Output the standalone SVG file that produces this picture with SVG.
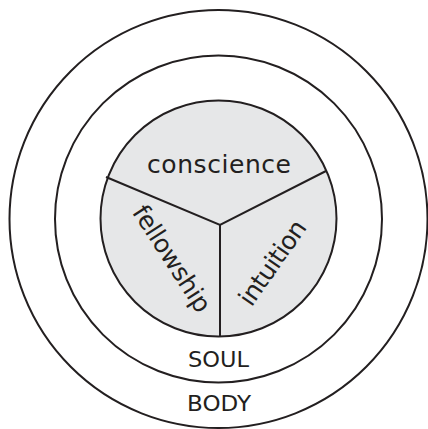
<svg xmlns="http://www.w3.org/2000/svg" width="428" height="429" viewBox="0 0 428 429">
<style>
.ring{fill:none;stroke:#231f20;stroke-width:2}
.core{fill:#e6e7e8;stroke:#231f20;stroke-width:2}
.div{fill:none;stroke:#231f20;stroke-width:2}
.lbl{font-family:"DejaVu Sans","Liberation Sans",sans-serif;fill:#231f20;text-anchor:middle}
</style>
<rect width="428" height="429" fill="#ffffff"/>
<g id="body">
<circle class="ring" cx="218.5" cy="219" r="209"/>
<text class="lbl" x="219" y="410.5" font-size="22" textLength="64" lengthAdjust="spacingAndGlyphs">BODY</text>
</g>
<g id="soul">
<circle class="ring" cx="218.5" cy="219" r="163.5"/>
<text class="lbl" x="218.5" y="366.5" font-size="21" textLength="61" lengthAdjust="spacingAndGlyphs">SOUL</text>
</g>
<g id="spirit">
<circle class="core" cx="218.5" cy="218.5" r="118"/>
</g>
<g id="connectors">
<polyline class="div" points="106,177 220,225 326,171"/>
<line class="div" x1="220" y1="225" x2="220" y2="336.5"/>
</g>
<g id="conscience">
<text class="lbl" x="219" y="173.3" font-size="25" textLength="144">conscience</text>
</g>
<g id="fellowship">
<text class="lbl" transform="translate(171.5,259) rotate(57)" x="0" y="8" font-size="25" textLength="122">fellowship</text>
</g>
<g id="intuition">
<text class="lbl" transform="translate(273,263) rotate(-55)" x="0" y="8" font-size="25" textLength="98">intuition</text>
</g>
</svg>
